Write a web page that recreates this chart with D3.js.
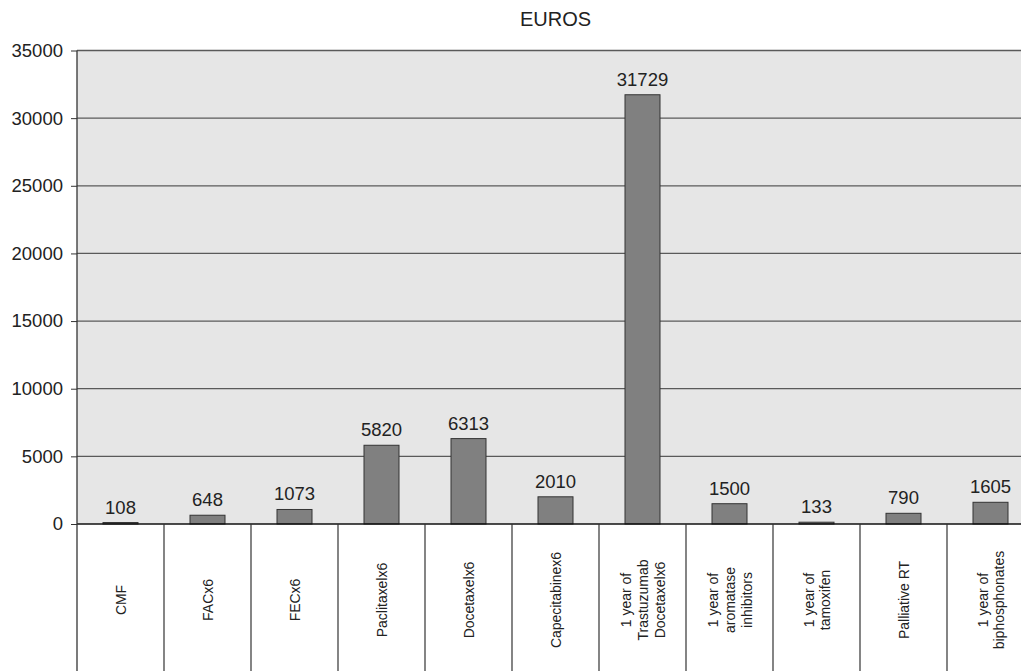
<!DOCTYPE html>
<html><head><meta charset="utf-8">
<script src="https://cdn.jsdelivr.net/npm/d3@7"></script>
<style>body{margin:0;background:#fff;} svg{display:block;font-family:"Liberation Sans",Arial,sans-serif;}</style>
</head><body>
<svg id="c" width="1021" height="671"></svg>
<script>
const categories = ["CMF","FACx6","FECx6","Paclitaxelx6","Docetaxelx6","Capecitabinex6",
  "1 year of|Trastuzumab|Docetaxelx6","1 year of|aromatase|inhibitors","1 year of|tamoxifen",
  "Palliative RT","1 year of|biphosphonates"];
const values = [108,648,1073,5820,6313,2010,31729,1500,133,790,1605];
const yTicks = [0,5000,10000,15000,20000,25000,30000,35000];
const title = "EUROS";

(function(){
const svg = d3.select("#c");
const mLeft = 77, step = 87, mTop = 50.5, zero = 524, H = 671;
const x = d3.scaleBand().domain(categories).range([mLeft, mLeft + step*categories.length]).padding(0);
const y = d3.scaleLinear().domain([0,35000]).range([zero, mTop]);
const barW = 35;

svg.append("rect").attr("x", mLeft).attr("y", mTop).attr("width", 1021-mLeft).attr("height", zero-mTop).attr("fill","#e6e6e6");

// grid
svg.append("g").selectAll("line").data(yTicks.filter(d=>d>0)).join("line")
  .attr("x1", mLeft).attr("x2", 1021).attr("y1", d=>y(d)).attr("y2", d=>y(d))
  .attr("stroke","#5a5a5a").attr("stroke-width",1.3);

// y axis
const ya = svg.append("g").attr("transform",`translate(${mLeft},0)`)
  .call(d3.axisLeft(y).tickValues(yTicks).tickSize(6).tickPadding(8).tickFormat(d3.format("d")));
ya.select(".domain").remove();
ya.selectAll("line").attr("stroke","#333");
ya.selectAll("text").attr("font-size","18.5px").attr("fill","#222").attr("font-family","Liberation Sans, Arial, sans-serif");

// bars
svg.append("g").selectAll("rect").data(values).join("rect")
  .attr("x",(d,i)=>x(categories[i]) + x.bandwidth()/2 - barW/2)
  .attr("y",d=>y(d)).attr("width",barW).attr("height",d=>zero-y(d))
  .attr("fill","#808080").attr("stroke","#333").attr("stroke-width",1);

// value labels
svg.append("g").selectAll("text").data(values).join("text")
  .attr("x",(d,i)=>x(categories[i]) + x.bandwidth()/2)
  .attr("y",d=>y(d)-9).attr("text-anchor","middle")
  .attr("font-size","18.5px").attr("fill","#222").text(d=>d);

// zero line and left axis line
svg.append("line").attr("x1",mLeft).attr("x2",1021).attr("y1",zero).attr("y2",zero).attr("stroke","#111").attr("stroke-width",1.3);
svg.append("line").attr("x1",mLeft).attr("x2",mLeft).attr("y1",mTop).attr("y2",H).attr("stroke","#333").attr("stroke-width",1.3);

// category separators
svg.append("g").selectAll("line").data(categories.slice(1)).join("line")
  .attr("x1",d=>x(d)).attr("x2",d=>x(d)).attr("y1",zero).attr("y2",H)
  .attr("stroke","#333").attr("stroke-width",1.2);

// category labels
const lh = 17;
const cl = svg.append("g").selectAll("g").data(categories).join("g")
  .attr("transform",d=>`translate(${x(d)+x.bandwidth()/2},600) rotate(-90)`);
cl.each(function(d){
  const lines = d.split("|");
  const g = d3.select(this);
  const n = lines.length;
  g.selectAll("text").data(lines).join("text")
    .attr("x",0).attr("y",(l,i)=>(i-(n-1)/2)*lh + 5.5)
    .attr("text-anchor","middle").attr("font-size","15.5px").attr("fill","#222")
    .attr("transform","scale(0.9,1)")
    .text(l=>l);
});

svg.append("text").attr("x",(mLeft+mLeft+step*categories.length)/2).attr("y",26)
  .attr("text-anchor","middle").attr("font-size","20px").attr("fill","#222").text(title);
})();
</script>
</body></html>
